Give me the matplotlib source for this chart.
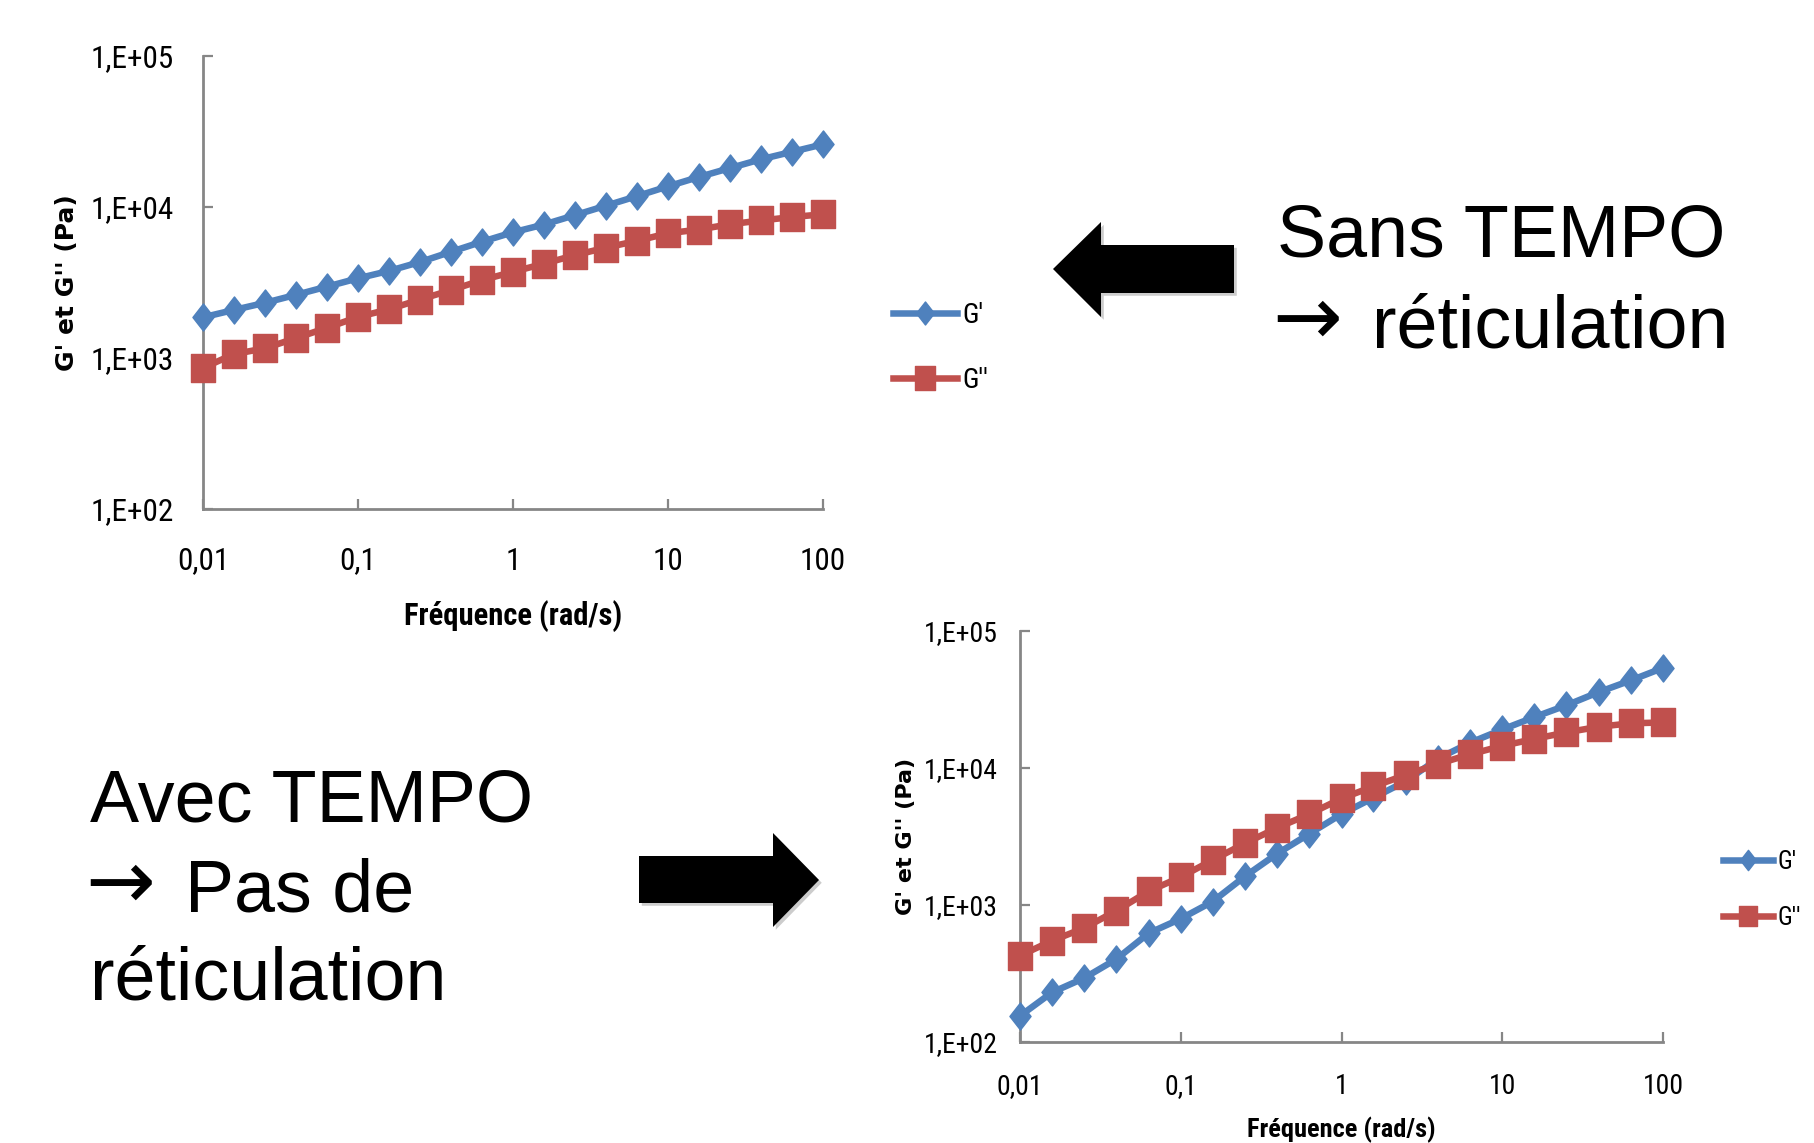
import matplotlib
matplotlib.use("Agg")
import matplotlib.pyplot as plt
import matplotlib.patheffects as pe
from matplotlib import font_manager
from matplotlib.path import Path
from matplotlib.patches import Polygon

# data

freq = [0.01, 0.0158, 0.0251, 0.0398, 0.0631, 0.1, 0.158, 0.251, 0.398, 0.631,
        1, 1.58, 2.51, 3.98, 6.31, 10, 15.8, 25.1, 39.8, 63.1, 100]

# sans TEMPO (top)
top_gp = [1860, 2080, 2320, 2620, 2970, 3370, 3770, 4320, 5050, 5890, 6800,
          7650, 8830, 10200, 11800, 13700, 15800, 18100, 20700, 23200, 26000]
top_gpp = [860, 1060, 1160, 1355, 1585, 1870, 2100, 2440, 2815, 3280, 3720,
           4210, 4800, 5380, 5970, 6700, 7090, 7690, 8140, 8580, 8950]

# avec TEMPO (bottom)
bot_gp = [155, 230, 293, 403, 622, 794, 1060, 1620, 2370, 3310, 4610,
          6060, 8000, 11700, 15300, 19100, 23500, 28700, 35800, 43600, 53800]
bot_gpp = [427, 548, 680, 908, 1260, 1600, 2130, 2820, 3660, 4610, 5990,
           7340, 8900, 10700, 12600, 14500, 16300, 18200, 20000, 21200, 21500]

xticks = [0.01, 0.1, 1, 10, 100]
xlabels = ["0,01", "0,1", "1", "10", "100"]
yticks = [1e2, 1e3, 1e4, 1e5]
ylabels = ["1,E+02", "1,E+03", "1,E+04", "1,E+05"]
series_names = ["G'", "G''"]

blue = "#4F81BD"
red = "#C0504D"
grey = "#868686"
sans = ["Liberation Sans", "DejaVu Sans"]

# a narrow face if one is installed, else plain Liberation Sans a bit smaller
installed = {f.name for f in font_manager.fontManager.ttflist}
narrow_name = None
for cand in ["Liberation Sans Narrow", "Roboto Condensed", "Open Sans Condensed",
             "DejaVu Sans Condensed", "Noto Sans Condensed"]:
    if cand in installed:
        narrow_name = cand
        break
if narrow_name:
    narrow = [narrow_name, "DejaVu Sans"]
    k = 1.0
else:
    narrow = sans
    k = 0.85

# slightly squashed markers, like the stretched slide
diamond = Path([(0, 1), (0.78, 0), (0, -1), (-0.78, 0), (0, 1)],
               [Path.MOVETO, Path.LINETO, Path.LINETO, Path.LINETO, Path.CLOSEPOLY])
square = Path([(-0.86, -1), (0.86, -1), (0.86, 1), (-0.86, 1), (-0.86, -1)],
              [Path.MOVETO, Path.LINETO, Path.LINETO, Path.LINETO, Path.CLOSEPOLY])

W, H = 1815, 1143
fig = plt.figure(figsize=(W / 100, H / 100), dpi=100)


def px_axes(x0, y0, x1, y1):
    # pixel box (top-left origin) -> figure fraction
    return fig.add_axes([x0 / W, 1 - y1 / H, (x1 - x0) / W, (y1 - y0) / H])


def rheo(ax, gp, gpp, fs_tick, fs_xlab, fs_ylab, xpad, ypad, xlab_y, ylab_x):
    ax.plot(freq, gp, color=blue, lw=4.7, marker=diamond, ms=19.5,
            mec=blue, label=series_names[0], clip_on=False, zorder=3)
    ax.plot(freq, gpp, color=red, lw=4.7, marker=square, ms=19.5,
            mec=red, label=series_names[1], clip_on=False, zorder=3)
    ax.set_xscale("log")
    ax.set_yscale("log")
    ax.set_xlim(0.01, 100)
    ax.set_ylim(1e2, 1e5)
    ax.minorticks_off()
    ax.set_xticks(xticks, xlabels, family=narrow, fontsize=fs_tick)
    ax.set_yticks(yticks, ylabels, family=narrow, fontsize=fs_tick)
    ax.tick_params(axis="both", direction="in", length=7, width=1.6, color=grey)
    ax.tick_params(axis="x", pad=xpad)
    ax.tick_params(axis="y", pad=ypad)
    for s in ["top", "right"]:
        ax.spines[s].set_visible(False)
    for s in ["left", "bottom"]:
        ax.spines[s].set_color(grey)
        ax.spines[s].set_linewidth(2)
    ax.set_xlabel("Fréquence (rad/s)", family=narrow, fontweight="bold",
                  fontsize=fs_xlab, va="center")
    ax.xaxis.set_label_coords(0.5, xlab_y)
    ax.set_ylabel("G' et G'' (Pa)", family="DejaVu Sans", fontweight="bold",
                  fontsize=fs_ylab, va="center")
    ax.yaxis.set_label_coords(ylab_x, 0.5)
    ax.patch.set_alpha(0)


ax1 = px_axes(203, 56, 823, 509)
rheo(ax1, top_gp, top_gpp, 22.5 * k, 22 * k, 18, 27, 21, -0.237, -0.219)

ax2 = px_axes(1020, 631, 1663, 1042)
rheo(ax2, bot_gp, bot_gpp, 20 * k, 19 * k, 16, 22, 16, -0.213, -0.178)

# legends, outside the plot areas
h1, l1 = ax1.get_legend_handles_labels()
ax1.legend(h1, l1, loc="center left", bbox_to_anchor=(893 / W, 1 - 348 / H),
           bbox_transform=fig.transFigure, frameon=False,
           prop={"family": narrow, "size": 19 * k + 1}, handlelength=2.3,
           handletextpad=0.2, labelspacing=1.37, borderpad=0, borderaxespad=0,
           markerscale=0.85)
h2, l2 = ax2.get_legend_handles_labels()
ax2.legend(h2, l2, loc="center left", bbox_to_anchor=(1723 / W, 1 - 890 / H),
           bbox_transform=fig.transFigure, frameon=False,
           prop={"family": narrow, "size": 17 * k + 1}, handlelength=2.0,
           handletextpad=0.2, labelspacing=1.28, borderpad=0, borderaxespad=0,
           markerscale=0.75)

# block arrows with a soft shadow
shadow = [pe.SimplePatchShadow(offset=(2, -2), alpha=0.2), pe.Normal()]


def block_arrow(pts):
    poly = Polygon([(x / W, 1 - y / H) for x, y in pts], closed=True,
                   transform=fig.transFigure, facecolor="black",
                   edgecolor="none", path_effects=shadow)
    fig.patches.append(poly)


block_arrow([(1053, 269), (1101, 222), (1101, 245), (1234, 245),
             (1234, 293), (1101, 293), (1101, 317)])
block_arrow([(639, 856), (773, 856), (773, 833), (819, 880),
             (773, 927), (773, 903), (639, 903)])

# slide text; the arrow glyph comes from DejaVu, it is larger there
big = 53
arrow_font = ["DejaVu Sans"]
fig.text(1277 / W, 1 - 257 / H, "Sans TEMPO", family=sans, fontsize=big, va="baseline")
fig.text(1272 / W, 1 - 345 / H, "\u2192", family=arrow_font, fontsize=60, va="baseline")
fig.text(1372 / W, 1 - 347 / H, "réticulation", family=sans, fontsize=big, va="baseline")
fig.text(90 / W, 1 - 822 / H, "Avec TEMPO", family=sans, fontsize=big, va="baseline")
fig.text(85 / W, 1 - 909 / H, "\u2192", family=arrow_font, fontsize=60, va="baseline")
fig.text(185 / W, 1 - 911 / H, "Pas de", family=sans, fontsize=big, va="baseline")
fig.text(90 / W, 1 - 999 / H, "réticulation", family=sans, fontsize=big, va="baseline")

fig.savefig("out.png", dpi=100, facecolor="white")
